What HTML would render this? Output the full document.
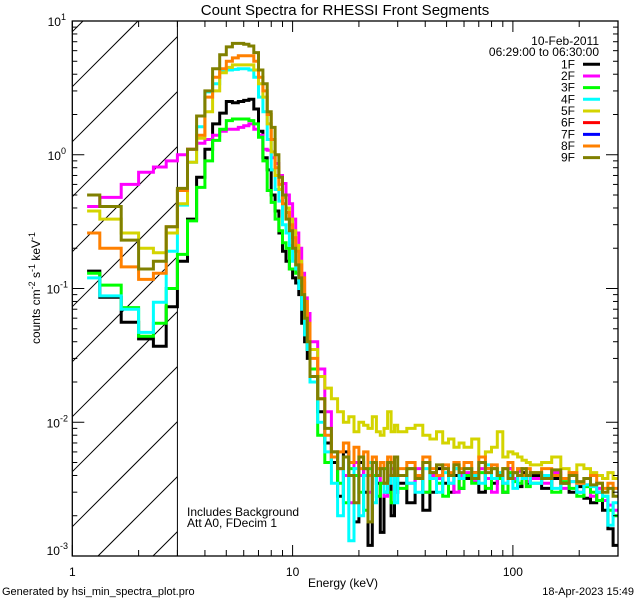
<!DOCTYPE html>
<html><head><meta charset="utf-8"><style>
html,body{margin:0;padding:0;background:#fff;width:640px;height:600px;overflow:hidden;}
svg{display:block;font-family:"Liberation Sans",sans-serif;}
</style></head><body>
<svg id="chart" width="640" height="600" viewBox="0 0 640 600" xmlns="http://www.w3.org/2000/svg" overflow="hidden">
<rect x="0" y="0" width="640" height="600" fill="#fff"/>
<defs><clipPath id="plotclip"><rect x="72.3" y="21" width="545.7" height="535"/></clipPath></defs>
<text x="345" y="15" font-size="15" text-anchor="middle">Count Spectra for RHESSI Front Segments</text>
<g id="hatch"></g>
<g id="series" clip-path="url(#plotclip)"></g>
<g id="axes"></g>
<text transform="translate(40,288) rotate(-90)" font-size="12" text-anchor="middle">counts cm<tspan dy="-5" font-size="9">-2</tspan><tspan dy="5"> s</tspan><tspan dy="-5" font-size="9">-1</tspan><tspan dy="5"> keV</tspan><tspan dy="-5" font-size="9">-1</tspan></text>
<text x="343" y="587" font-size="12" text-anchor="middle">Energy (keV)</text>
<text x="2" y="595" font-size="11">Generated by hsi_min_spectra_plot.pro</text>
<text x="634" y="595" font-size="11" text-anchor="end">18-Apr-2023 15:49</text>
<text x="187" y="516" font-size="12">Includes Background</text>
<text x="187" y="527" font-size="12">Att A0, FDecim 1</text>
<g id="legend">
<text x="599" y="45" font-size="12" text-anchor="end">10-Feb-2011</text>
<text x="599" y="56" font-size="12" text-anchor="end">06:29:00 to 06:30:00</text>
</g>
</svg>
<script>
const edges=[1.167,1.333,1.667,2,2.333,2.667,3,3.333,3.667,4,4.333,4.667,5,5.333,5.667,6,6.333,6.667,7,7.333,7.667,8,8.333,8.667,9,9.333,9.667,10,10.333,10.667,11,11.333,11.667,12,13,14,15,16,17,18,19,20,21,22,23,24,25,26,27,28,29,30,33,36,39,42,45,48,51,54,57,60,65,70,75,80,85,90,95,100,105,110,115,120,135,150,165,180,195,210,225,240,255,270,285,300];
const seriesNames=["1F","2F","3F","4F","5F","6F","7F","8F","9F"];
const seriesColors=["#000000","#ff00ff","#00ff00","#00ffff","#d4d400","#ff0000","#0000ff","#ff8000","#808000"];
const s1F=[0.135,0.086,0.056,0.042,0.037,0.073,
0.16,0.33,0.68,1.1,1.7,2.05,2.5,2.45,2.5,2.55,2.6,2.2,1.5,0.95,0.77,0.5,0.38,0.26,0.19,0.16,0.14,0.12,0.11,0.09,0.055,0.04,0.03,
0.022,0.012,0.007,0.005,0.0028,0.006,0.004,0.0018,0.005,0.003,0.0012,0.004,0.0035,0.0015,0.003,0.004,0.002,0.003,
0.0035,0.0025,0.004,0.0022,0.003,0.0045,0.0035,0.003,0.004,0.0032,
0.0038,0.0042,0.003,0.0045,0.0035,0.004,0.003,0.0045,0.0038,0.0033,0.0042,0.0035,
0.004,0.0032,0.0038,0.0035,0.003,0.0033,0.0027,0.0025,0.003,0.0022,0.0016,0.0012];
const s2F=[0.41,0.48,0.6,0.74,0.81,0.9,
1.0,1.1,1.22,1.3,1.4,1.5,1.55,1.55,1.6,1.65,1.7,1.55,1.4,1.1,1.08,0.95,0.86,0.7,0.61,0.5,0.43,0.33,0.26,0.2,0.13,0.085,0.065,
0.04,0.025,0.012,0.006,0.0045,0.004,0.0025,0.005,0.004,0.0045,0.003,0.005,0.0045,0.0035,0.0028,0.004,0.0045,0.003,
0.004,0.0035,0.0045,0.003,0.004,0.0038,0.0045,0.0035,0.003,0.004,
0.0042,0.0036,0.0045,0.0038,0.003,0.0042,0.0035,0.0045,0.0038,0.0043,0.004,0.0036,
0.0038,0.0035,0.0042,0.0032,0.0036,0.003,0.0034,0.0028,0.0032,0.0026,0.0024,0.0022];
const s3F=[0.13,0.106,0.072,0.044,0.055,0.1,
0.18,0.32,0.57,0.9,1.28,1.55,1.8,1.85,1.85,1.85,1.8,1.7,1.35,0.9,0.54,0.44,0.33,0.27,0.22,0.2,0.14,0.14,0.13,0.13,0.08,0.05,0.035,
0.025,0.008,0.005,0.006,0.0035,0.0025,0.0045,0.004,0.003,0.0022,0.0045,0.004,0.0028,0.0035,0.0045,0.003,0.0025,0.004,
0.0032,0.0045,0.0038,0.003,0.0042,0.0035,0.0028,0.004,0.0045,0.0032,
0.004,0.0035,0.0042,0.0032,0.0045,0.0038,0.003,0.0042,0.0036,0.0035,0.004,0.0033,
0.0035,0.004,0.003,0.0036,0.0032,0.0028,0.0033,0.003,0.0026,0.0028,0.0022,0.002];
const s4F=[0.12,0.088,0.07,0.047,0.079,0.19,
0.42,0.88,1.62,2.95,3.4,4.2,4.3,4.35,4.4,4.4,4.3,3.8,2.7,2.1,1.3,0.77,0.55,0.45,0.3,0.26,0.21,0.16,0.14,0.1,0.07,0.045,0.035,
0.02,0.01,0.006,0.0035,0.002,0.0055,0.0013,0.0045,0.002,0.004,0.005,0.0025,0.004,0.0045,0.003,0.0035,0.004,0.0025,
0.004,0.0035,0.003,0.0045,0.0038,0.003,0.0042,0.0035,0.0045,0.0038,
0.0045,0.004,0.0035,0.0048,0.0038,0.0042,0.0035,0.004,0.0032,0.0045,0.0038,0.004,
0.0035,0.004,0.0032,0.0038,0.0036,0.003,0.0034,0.0033,0.003,0.0028,0.0017,0.0025];
const s5F=[0.38,0.33,0.26,0.2,0.185,0.26,
0.43,0.88,1.33,2.1,3.0,4.1,4.5,4.7,4.7,4.7,4.7,4.3,3.4,2.7,1.7,1.05,0.7,0.55,0.48,0.4,0.33,0.27,0.21,0.16,0.11,0.075,0.05,
0.035,0.022,0.018,0.015,0.012,0.01,0.011,0.0085,0.01,0.0095,0.009,0.011,0.0085,0.008,0.009,0.012,0.0085,0.0095,
0.0085,0.009,0.0095,0.008,0.0075,0.0085,0.007,0.0075,0.0065,0.007,
0.0065,0.0075,0.0055,0.006,0.0065,0.0085,0.0055,0.006,0.0058,0.0055,0.0052,0.005,
0.0048,0.005,0.0055,0.0045,0.0042,0.0048,0.0045,0.0042,0.004,0.0038,0.0042,0.0038];
const s6F=[];
const s7F=[];
const s8F=[0.26,0.2,0.145,0.117,0.13,0.29,
0.54,1.1,1.4,2.7,3.8,4.4,5.0,5.3,5.5,5.5,5.5,5.0,3.8,3.0,2.0,1.3,0.8,0.6,0.43,0.37,0.3,0.24,0.19,0.15,0.12,0.08,0.055,
0.03,0.015,0.008,0.0055,0.006,0.007,0.005,0.0065,0.0045,0.006,0.004,0.0055,0.0045,0.005,0.0035,0.0055,0.005,0.004,
0.0045,0.005,0.004,0.0055,0.0045,0.004,0.0048,0.0042,0.005,0.0045,
0.005,0.0042,0.0055,0.0045,0.0048,0.004,0.0045,0.005,0.0042,0.0045,0.004,0.0045,
0.0042,0.0045,0.004,0.0038,0.0042,0.0035,0.0038,0.004,0.0035,0.0032,0.0035,0.0032];
const s9F=[0.5,0.41,0.23,0.14,0.16,0.29,
0.56,1.1,1.95,3.0,4.4,5.6,6.4,6.8,6.8,6.7,6.5,5.8,4.3,3.4,2.1,1.6,1.0,0.68,0.5,0.33,0.27,0.2,0.15,0.12,0.09,0.06,0.04,
0.022,0.015,0.009,0.006,0.0045,0.0055,0.004,0.0025,0.0055,0.0045,0.0018,0.005,0.004,0.0045,0.0035,0.005,0.004,0.0055,
0.004,0.0045,0.0038,0.005,0.0042,0.0048,0.0045,0.004,0.0048,0.0042,
0.0045,0.0038,0.005,0.0042,0.0045,0.004,0.0045,0.0038,0.0042,0.004,0.0045,0.004,
0.0042,0.0038,0.0044,0.0035,0.004,0.0036,0.0038,0.0034,0.0035,0.003,0.0032,0.0028];
const xTickLabels=["1","10","100"];
const yTickExps=["1","0","-1","-2","-3"];

const allSeries=[s1F,s2F,s3F,s4F,s5F,s6F,s7F,s8F,s9F];
const X0=72.3,X1=618,Y0=21,Y1=556,XMIN=1,XMAX=300,YMIN=1e-3,YMAX=10;
const DEC=(X1-X0)/Math.log10(XMAX/XMIN);
function xs(e){return X0+DEC*Math.log10(e/XMIN);}
function ys(v){const l=Math.max(Math.log10(Math.max(v,1e-9)),-3.3);return Y0+(Math.log10(YMAX)-l)/(Math.log10(YMAX)-Math.log10(YMIN))*(Y1-Y0);}
const NS="http://www.w3.org/2000/svg";
function mk(tag,attrs,parent){const el=document.createElementNS(NS,tag);for(const k in attrs)el.setAttribute(k,attrs[k]);parent.appendChild(el);return el;}

const hatch=document.getElementById('hatch');
const hx1=xs(3);
for(let k=-12;k<12;k++){
  const yl=526.7-55*k;
  const xa=Math.max(X0,X0+yl-Y1), xb=Math.min(hx1,X0+yl-Y0);
  if(xb<=xa)continue;
  const ln=mk('line',{x1:xa,y1:yl-(xa-X0),x2:xb,y2:yl-(xb-X0),stroke:'#000','stroke-width':1},hatch);
  
  
}
const vline=mk('line',{x1:hx1,y1:Y0,x2:hx1,y2:Y1,stroke:'#000','stroke-width':1},hatch);



const sg=document.getElementById('series');
allSeries.forEach((vals,si)=>{
  if(!vals.length)return;
  let d='';
  for(let i=0;i<vals.length&&i+1<edges.length;i++){
    const xa=xs(edges[i]).toFixed(1),xb=xs(edges[i+1]).toFixed(1),y=ys(vals[i]).toFixed(1);
    d+=(i===0?'M':'L')+xa+','+y+'L'+xb+','+y;
  }
  const p=mk('path',{d:d,fill:'none',stroke:seriesColors[si],'stroke-width':3,'stroke-linejoin':'miter'},sg);
  
  
});

const ax=document.getElementById('axes');
const frame=mk('rect',{x:X0,y:Y0,width:X1-X0,height:Y1-Y0,fill:'none',stroke:'#000','stroke-width':1.3},ax);


for(let dec=1;dec<=100;dec*=10){
  for(let m=1;m<=9;m++){
    const e=dec*m; if(e>XMAX)break;
    const x=xs(e),len=(m===1)?11:6;
    const t1=mk('line',{x1:x,y1:Y1,x2:x,y2:Y1-len,stroke:'#000','stroke-width':1},ax);
    
    
    const t2=mk('line',{x1:x,y1:Y0,x2:x,y2:Y0+len,stroke:'#000','stroke-width':1},ax);
    
    
  }
}
xTickLabels.forEach(lbl=>{
  const t=mk('text',{x:xs(parseFloat(lbl)),y:576,'font-size':12,'text-anchor':'middle'},ax);
  t.textContent=lbl;
  
  
});
for(let ex=-3;ex<1;ex++){
  for(let m=1;m<=9;m++){
    const v=m*Math.pow(10,ex),y=ys(v),len=(m===1)?12:5;
    const a=mk('line',{x1:X0,y1:y,x2:X0+len,y2:y,stroke:'#000','stroke-width':1},ax);
    
    
    const b=mk('line',{x1:X1,y1:y,x2:X1-len,y2:y,stroke:'#000','stroke-width':1},ax);
    
    
  }
}
yTickExps.forEach(ex=>{
  const v=Math.pow(10,parseFloat(ex));
  let y=ys(v)+5; if(ex==="-3")y=ys(v)-1;
  const t=mk('text',{x:ex.length>1?68:66,y:y,'font-size':12,'text-anchor':'end'},ax);
  
  
  const a=mk('tspan',{},t);a.textContent='10';
  const b=mk('tspan',{dy:-6,'font-size':9},t);b.textContent=ex;
});

const lg=document.getElementById('legend');
seriesNames.forEach((nm,i)=>{
  const y=64.3+11.67*i;
  const t=mk('text',{x:575,y:y+4,'font-size':12,'text-anchor':'end'},lg);
  t.textContent=nm;
  
  
  const l=mk('line',{x1:583,y1:y,x2:600,y2:y,stroke:seriesColors[i],'stroke-width':3},lg);
  
  
});
</script>
</body></html>
